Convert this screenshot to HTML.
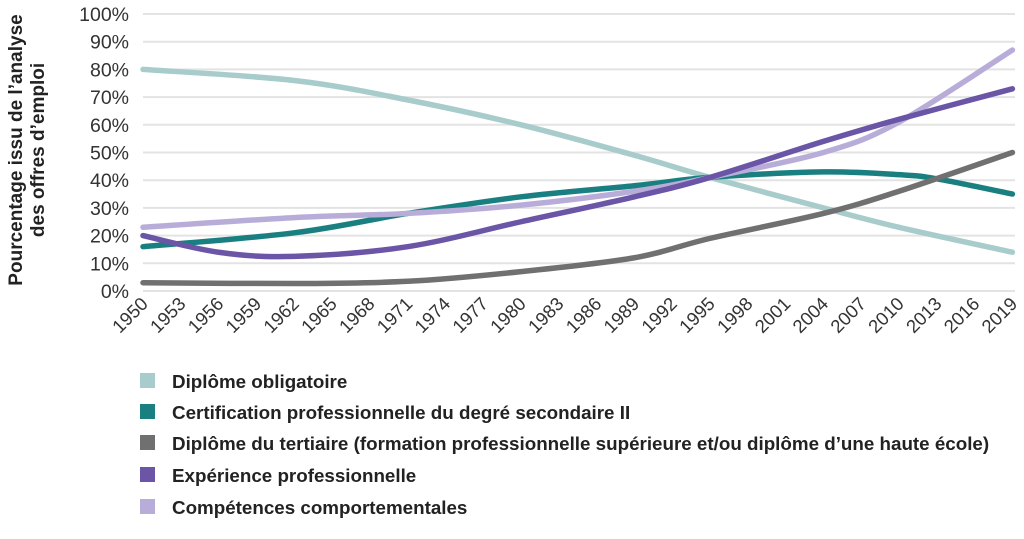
<!DOCTYPE html>
<html><head><meta charset="utf-8"><style>
body{margin:0;background:#fff;width:1024px;height:534px;overflow:hidden;font-family:"Liberation Sans",sans-serif}
</style></head><body>
<svg id="s" width="1024" height="534" xmlns="http://www.w3.org/2000/svg" font-family="Liberation Sans, sans-serif">
<g id="grid" stroke="#e3e3e3" stroke-width="2"></g>
<g id="ylab" font-size="19.5" fill="#333" text-anchor="end"></g>
<g id="xlab" font-size="18.5" fill="#333" text-anchor="end"></g>
<g id="lines" fill="none" stroke-width="5.5" stroke-linecap="round"></g>
<text transform="translate(22,150) rotate(-90)" font-size="19" font-weight="bold" fill="#222" text-anchor="middle">Pourcentage issu de l’analyse</text>
<text transform="translate(44,150) rotate(-90)" font-size="19" font-weight="bold" fill="#222" text-anchor="middle">des offres d’emploi</text>
<g font-size="18.8" font-weight="bold" fill="#222">
<rect x="140" y="373" width="15" height="15" fill="#a8cccc"/><text x="172" y="388">Diplôme obligatoire</text>
<rect x="140" y="404" width="15" height="15" fill="#1a7f80"/><text x="172" y="419">Certification professionnelle du degré secondaire II</text>
<rect x="140" y="435" width="15" height="15" fill="#707070"/><text x="172" y="450">Diplôme du tertiaire (formation professionnelle supérieure et/ou diplôme d’une haute école)</text>
<rect x="140" y="467" width="15" height="15" fill="#6a55a6"/><text x="172" y="482">Expérience professionnelle</text>
<rect x="140" y="499" width="15" height="15" fill="#b8add9"/><text x="172" y="514">Compétences comportementales</text>
</g>
</svg>
<script>
var NS="http://www.w3.org/2000/svg";
function el(p,t,a,txt){var e=document.createElementNS(NS,t);for(var k in a)e.setAttribute(k,a[k]);if(txt)e.textContent=txt;document.getElementById(p).appendChild(e);}
function Y(p){return 291-2.77*p;}
function X(y){return 143+(y-1950)*12.6;}
for(var i=0;i<=10;i++){el('grid','line',{x1:143,x2:1015,y1:Y(i*10),y2:Y(i*10)});el('ylab','text',{x:129,y:Y(i*10)+7},i*10+'%');}
for(var y=1950;y<=2019;y+=3){var x=X(y)+6;el('xlab','text',{transform:'translate('+x+',305) rotate(-45)'},y);}
var S=[
['#a8cccc',[[1950,80],[1962,76],[1971,69],[1980,60],[1989,49],[1995,41],[2004,30],[2010,23],[2019,14]]],
['#1a7f80',[[1950,16],[1962,21],[1971,28],[1980,34],[1989,38],[1995,41],[2004,43],[2010,42],[2013,40.5],[2019,35]]],
['#707070',[[1950,3],[1962,2.7],[1971,3.5],[1980,7],[1989,12],[1995,19],[2004,28],[2010,36],[2019,50]]],
['#b8add9',[[1950,23],[1962,26.5],[1971,28],[1980,31],[1989,36],[1995,41],[2004,50],[2010,61],[2019,87]]],
['#6a55a6',[[1950,20],[1956,14],[1962,12.5],[1971,16],[1980,25],[1989,34],[1995,41],[2004,54],[2010,62],[2019,73]]]
];
S.forEach(function(s){var p=s[1].map(function(q){return [X(q[0]),Y(q[1])];});
var d='M'+p[0][0]+','+p[0][1];
for(var i=0;i<p.length-1;i++){var p0=p[i-1]||p[i],p1=p[i],p2=p[i+1],p3=p[i+2]||p2;
d+=' C'+(p1[0]+(p2[0]-p0[0])/6)+','+(p1[1]+(p2[1]-p0[1])/6)+' '+(p2[0]-(p3[0]-p1[0])/6)+','+(p2[1]-(p3[1]-p1[1])/6)+' '+p2[0]+','+p2[1];}
el('lines','path',{d:d,stroke:s[0]});});
</script>
</body></html>
